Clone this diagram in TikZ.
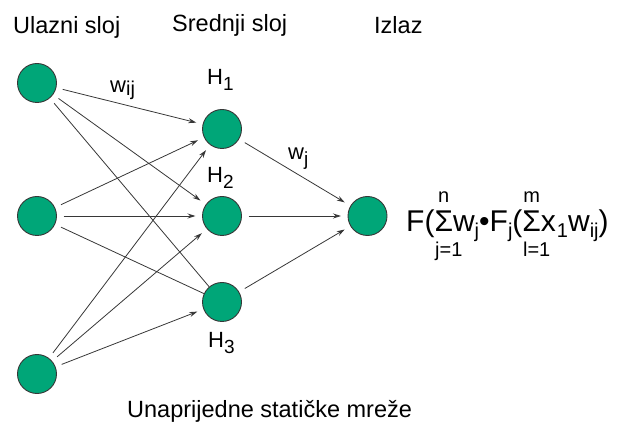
\documentclass[tikz,border=0pt]{standalone}
\usepackage{fontspec}
\setmainfont{Liberation Sans}
\usetikzlibrary{arrows.meta}
\definecolor{nodegreen}{RGB}{0,166,120}
\definecolor{edgegray}{RGB}{55,55,55}
\newlength\sigw
\newcommand\limf{\fontsize{20}{20}\selectfont}
\newcommand\lsub[1]{\raisebox{-6pt}{\fontsize{20}{20}\selectfont #1}}
\newcommand\lblsub[1]{\raisebox{-6pt}{\fontsize{19}{19}\selectfont #1}}
\newcommand\limsum[3]{%
  \settowidth\sigw{Σ}%
  \rlap{\makebox[\sigw]{\raisebox{29pt}{\limf #1}}}%
  \rlap{\makebox[\sigw]{\kern#3\raisebox{-25pt}{\limf #2}}}%
  Σ}
\tikzset{
  neuron/.style={circle, draw=edgegray, fill=nodegreen, minimum size=39pt, inner sep=0pt, outer sep=0pt, line width=0.9pt},
  conn/.style={draw=edgegray, line width=0.8pt, shorten <=7pt},
  arr/.style={conn, -{Stealth[length=8pt,width=5pt]}, shorten >=7pt},
  title/.style={anchor=base west, inner sep=0pt, font=\fontsize{23.5}{24}\selectfont},
  lbl/.style={anchor=base west, inner sep=0pt, font=\fontsize{22}{22}\selectfont},
  formula/.style={anchor=base west, inner sep=0pt, font=\fontsize{30}{30}\selectfont}
}
\begin{document}
\begin{tikzpicture}[x=1pt,y=1pt]
\useasboundingbox (0,0) rectangle (620,425);
% neurons
\node[neuron] (in1) at (37,342) {};
\node[neuron] (in2) at (37,209) {};
\node[neuron] (in3) at (37,51) {};
\node[neuron] (h1) at (222,296) {};
\node[neuron] (h2) at (222,209) {};
\node[neuron] (h3) at (222,123) {};
\node[neuron] (out) at (367.5,209) {};
% connections
\draw[arr] (in1) -- (h1);
\draw[arr] (in1) -- (h2);
\draw[conn] (in1) -- (h3);
\draw[arr] (in2) -- (h1);
\draw[arr] (in2) -- (h2);
\draw[conn] (in2) -- (h3);
\draw[arr] (in3) -- (h1);
\draw[arr] (in3) -- (h2);
\draw[arr] (in3) -- (h3);
\draw[arr] (h1) -- (out);
\draw[arr] (h2) -- (out);
\draw[arr] (h3) -- (out);
% titles
\node[title] (t1) at (13,391) {Ulazni sloj};
\node[title] (t2) at (172,393) {Srednji sloj};
\node[title] (t3) at (374,391) {Izlaz};
% labels
\node[lbl] (lh1) at (207,340) {H\lblsub{1}};
\node[lbl] (lh2) at (207,242) {H\lblsub{2}};
\node[lbl] (lh3) at (208,77) {H\lblsub{3}};
\node[lbl] (lwij) at (110,332) {w\raisebox{-3pt}{\fontsize{20}{20}\selectfont ij}};
\node[lbl] (lwj) at (288,265) {w\lblsub{j}};
% formula
\node[formula] (f) at (406,193) {F(\limsum{n}{j=1}{10pt}w\lsub{j}•F\lsub{j}(\limsum{m}{l=1}{10pt}x\kern1pt\lsub{1}w\lsub{ij})};
% caption
\node[title] (cap) at (127,8) {Unaprijedne statičke mreže};
\end{tikzpicture}
\end{document}
